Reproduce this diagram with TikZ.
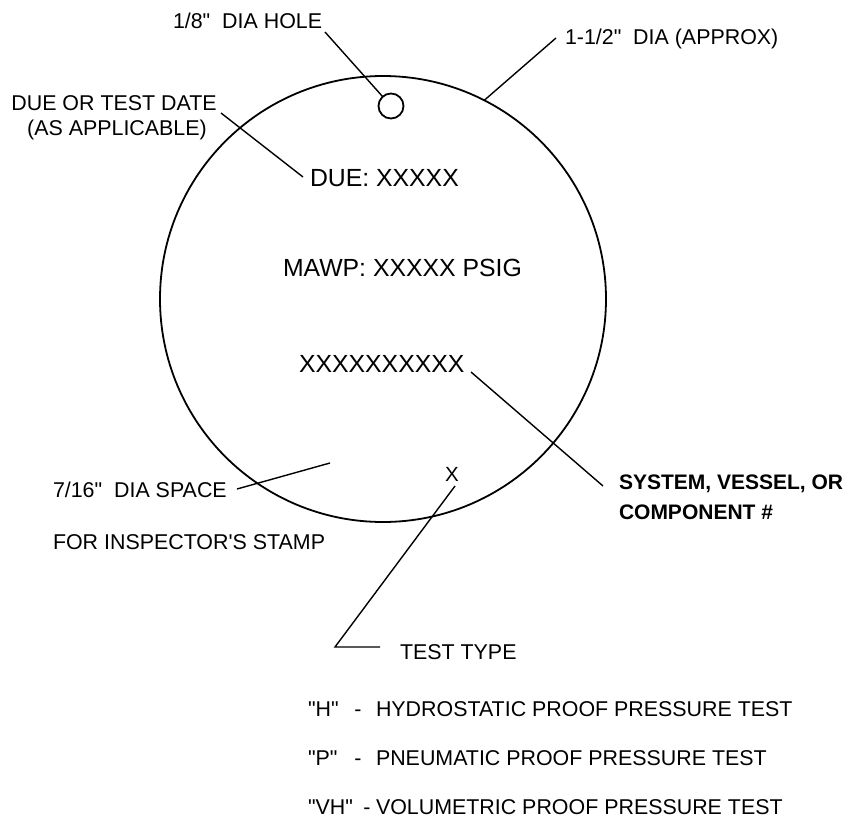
\documentclass[tikz,border=0pt]{standalone}
\usepackage{fontspec}
\setmainfont{Liberation Sans}[Ligatures=TeXOff]
\begin{document}
\begin{tikzpicture}[x=1pt,y=-1pt,
  every node/.style={inner sep=0pt,outer sep=0pt},
  lbl/.style={anchor=base west,font=\fontsize{21.4}{25}\selectfont},
  lblc/.style={anchor=base,font=\fontsize{21.4}{25}\selectfont},
  boldlbl/.style={anchor=base west,font=\fontsize{21}{25}\selectfont\bfseries},
  inner/.style={anchor=base west,font=\fontsize{24.8}{28}\selectfont},
  leader/.style={line width=1.4pt},
  rim/.style={draw,circle,line width=1.8pt}]
\useasboundingbox (0,0) rectangle (849,819);

% tag outline and hanging hole
\node[rim,minimum size=446pt] (tag) at (383,299) {};
\node[rim,minimum size=25pt] (hole) at (391,106) {};

% stamped text on the tag
\node[inner] (due)  at (310,186.9) {DUE: XXXXX};
\node[inner] (mawp) at (283,276.9) {MAWP: XXXXX PSIG};
\node[inner] (sysno) at (299,372) {XXXXXXXXXX};
\node[anchor=base,font=\fontsize{20.5}{24}\selectfont] (ttype) at (452,481.3) {X};

% callout labels
\node[lbl] (holelbl) at (173,28.7) {1/8"\ \ DIA HOLE};
\node[lbl] (dialbl) at (565,44.7) {1-1/2"\ \ DIA (APPROX)};
\node[lblc] (datelblA) at (114,110.7) {DUE OR TEST DATE};
\node[lblc] (datelblB) at (117,135.7) {(AS APPLICABLE)};
\node[lbl] (spacelbl) at (53,497.7) {7/16"\ \ DIA SPACE};
\node[lbl] (stamplbl) at (53,549.7) {FOR INSPECTOR'S STAMP};
\node[boldlbl] (syslblA) at (619,489.7) {SYSTEM, VESSEL, OR};
\node[boldlbl] (syslblB) at (619,519.2) {COMPONENT \#};
\node[lbl] (testlbl) at (400,659.7) {TEST TYPE};

% test type legend
\node[lbl] (codeH)  at (308,716.7) {"H"};
\node[lbl] (codeP)  at (308,765.7) {"P"};
\node[lbl] (codeVH) at (308,814.7) {"VH"};
\node[lblc] (dashH)  at (358,716.7) {-};
\node[lblc] (dashP)  at (358,765.7) {-};
\node[lblc] (dashVH) at (367,814.7) {-};
\node[lbl] (descH)  at (376,716.7) {HYDROSTATIC PROOF PRESSURE TEST};
\node[lbl] (descP)  at (376,765.7) {PNEUMATIC PROOF PRESSURE TEST};
\node[lbl] (descVH) at (376,814.7) {VOLUMETRIC PROOF PRESSURE TEST};

% leader end points
\coordinate (holeA) at (325,32);
\coordinate (diaA) at (556,38);
\coordinate (dateA) at (221,113);
\coordinate (dateB) at (303,177);
\coordinate (sysA) at (471,372);
\coordinate (sysB) at (603,486);
\coordinate (spaceA) at (237,489);
\coordinate (spaceB) at (330,463);
\coordinate (testA) at (455,486);
\coordinate (testB) at (335,647);
\coordinate (testC) at (380,647);

% leaders
\draw[leader] (holeA) -- (hole);
\draw[leader] (diaA) -- (tag.63.7);
\draw[leader] (dateA) -- (dateB);
\draw[leader] (sysA) -- (sysB);
\draw[leader] (spaceA) -- (spaceB);
\draw[leader] (testA) -- (testB) -- (testC);
\end{tikzpicture}
\end{document}
